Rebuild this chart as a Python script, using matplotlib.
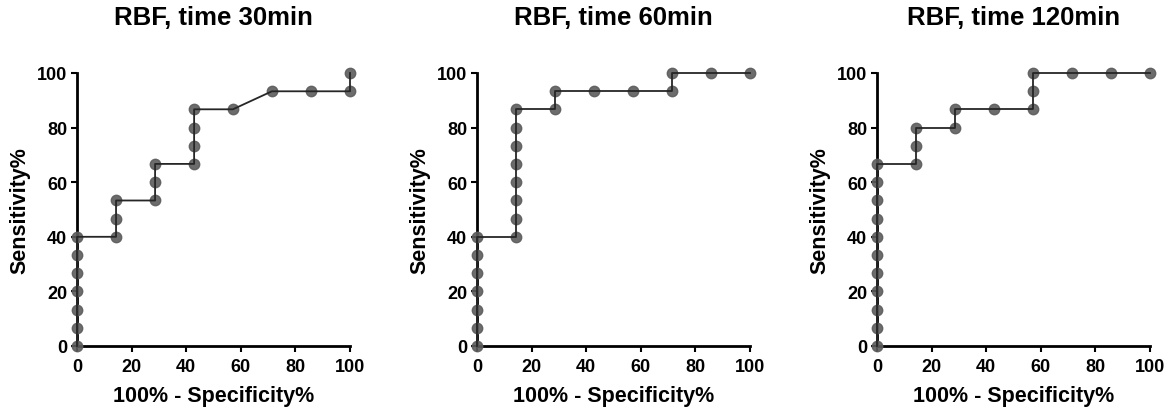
import matplotlib
matplotlib.use('Agg')
import matplotlib.pyplot as plt

plt.rcParams['font.family'] = ['Liberation Sans', 'DejaVu Sans']
plt.rcParams['font.weight'] = 'bold'

# ROC points: 100% - specificity (x) and sensitivity (y)
titles = ['RBF, time 30min', 'RBF, time 60min', 'RBF, time 120min']

fpr_30 = [0, 0, 0, 0, 0, 0, 0, 14.3, 14.3, 14.3, 28.6, 28.6, 28.6,
          42.9, 42.9, 42.9, 42.9, 57.1, 71.4, 85.7, 100, 100]
sens_30 = [0, 6.7, 13.3, 20, 26.7, 33.3, 40, 40, 46.7, 53.3, 53.3, 60, 66.7,
           66.7, 73.3, 80, 86.7, 86.7, 93.3, 93.3, 93.3, 100]

fpr_60 = [0, 0, 0, 0, 0, 0, 0, 14.3, 14.3, 14.3, 14.3, 14.3, 14.3, 14.3, 14.3,
          28.6, 28.6, 42.9, 57.1, 71.4, 71.4, 85.7, 100]
sens_60 = [0, 6.7, 13.3, 20, 26.7, 33.3, 40, 40, 46.7, 53.3, 60, 66.7, 73.3, 80, 86.7,
           86.7, 93.3, 93.3, 93.3, 93.3, 100, 100, 100]

fpr_120 = [0, 0, 0, 0, 0, 0, 0, 0, 0, 0, 0, 14.3, 14.3, 14.3, 28.6, 28.6,
           42.9, 57.1, 57.1, 57.1, 71.4, 85.7, 100]
sens_120 = [0, 6.7, 13.3, 20, 26.7, 33.3, 40, 46.7, 53.3, 60, 66.7, 66.7, 73.3, 80,
            80, 86.7, 86.7, 86.7, 93.3, 100, 100, 100, 100]

series = [(fpr_30, sens_30), (fpr_60, sens_60), (fpr_120, sens_120)]
lefts = [77, 477, 877]

fig = plt.figure(figsize=(11.76, 4.14), dpi=100)
W, H = 1176, 414

for (x, y), title, left in zip(series, titles, lefts):
    ax = fig.add_axes([left / W, (H - 347) / H, 273 / W, 273 / H])
    ax.plot(x, y, linestyle='none', marker='o', markersize=7.5,
            color='#5c5c5c', alpha=0.9, clip_on=False, zorder=3)
    ax.plot(x, y, color='#262626', linewidth=1.3, clip_on=False, zorder=4)
    ax.set_xlim(0, 100)
    ax.set_ylim(0, 100)
    ax.set_xticks(range(0, 101, 20))
    ax.set_yticks(range(0, 101, 20))
    for s in ['top', 'right']:
        ax.spines[s].set_visible(False)
    for s in ['left', 'bottom']:
        ax.spines[s].set_linewidth(2)
    ax.tick_params(width=1.5, length=4, labelsize=13, pad=3)
    ax.tick_params(axis='x', pad=5)
    for lab in ax.get_xticklabels() + ax.get_yticklabels():
        lab.set_fontweight('bold')
    ax.set_xlabel('100% - Specificity%', fontsize=15.5, fontweight='bold', labelpad=7)
    ax.set_ylabel('Sensitivity%', fontsize=15.5, fontweight='bold', labelpad=5)
    ax.set_title(title, fontsize=18.5, fontweight='bold', pad=35)

fig.savefig('out.png', dpi=100)
